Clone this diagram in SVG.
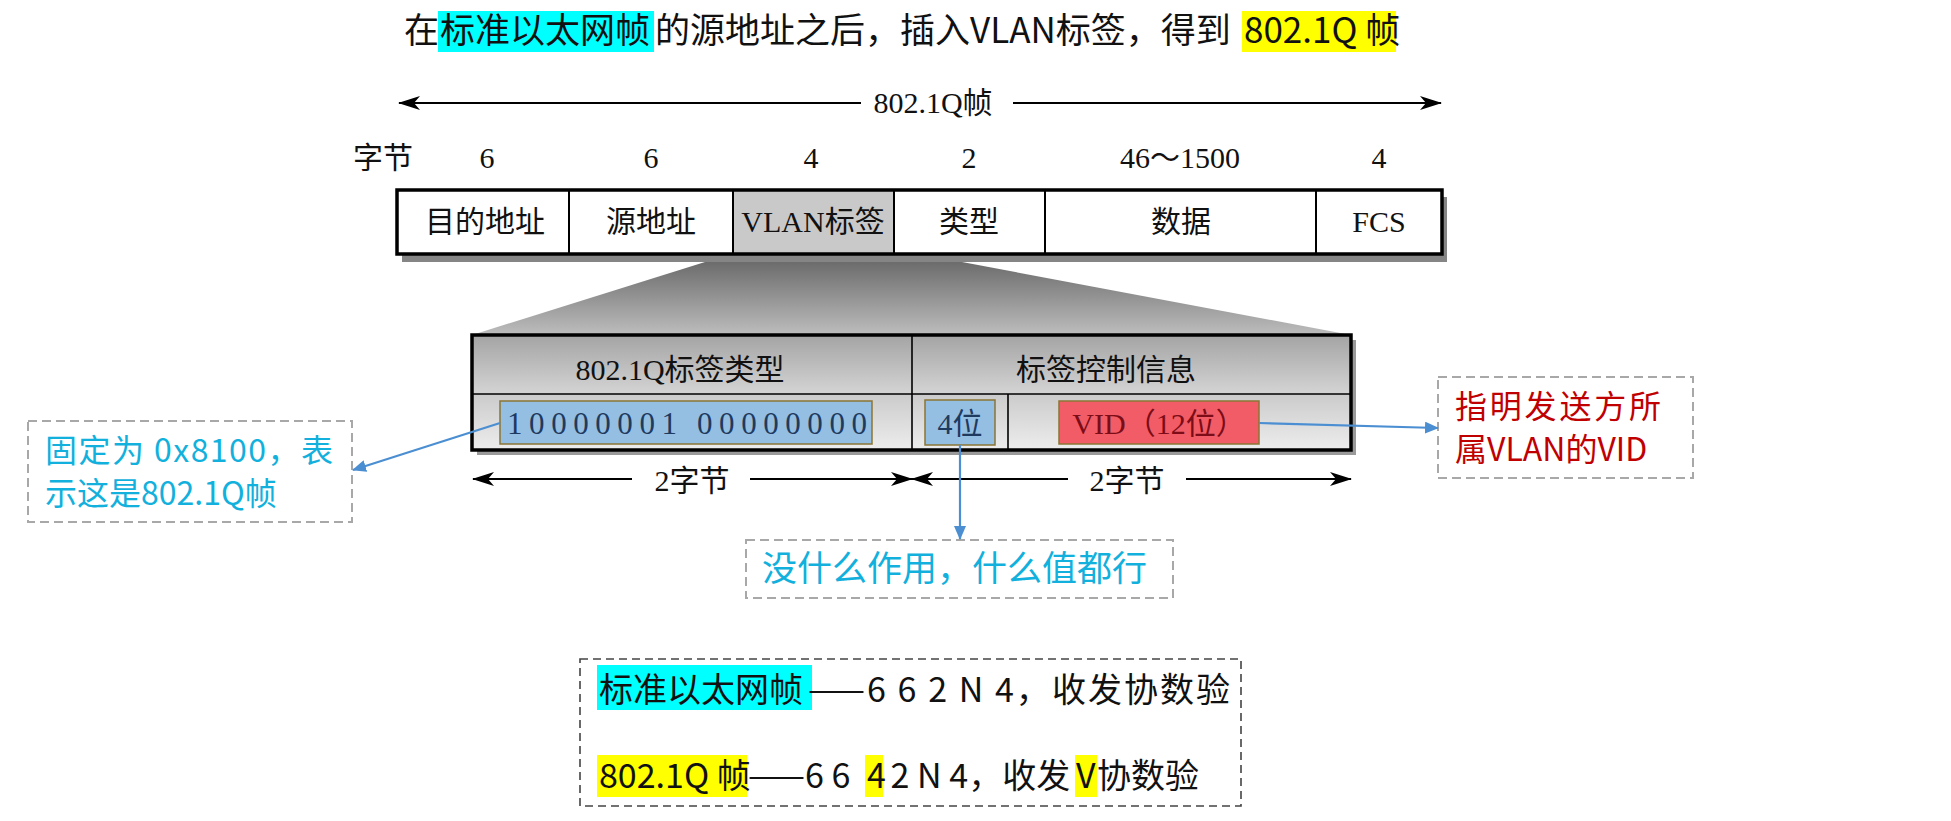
<svg xmlns="http://www.w3.org/2000/svg" width="1951" height="821" viewBox="0 0 1951 821">
<defs>
<style>
.sans{font-family:"Noto Sans CJK SC","Noto Sans",sans-serif;}
.serif{font-family:"Liberation Serif","Noto Sans CJK SC",serif;fill:#111;}
.dim{stroke:#000;stroke-width:2;fill:none;}
.blue{stroke:#4b8fd2;stroke-width:2.2;fill:none;}
.note{fill:none;stroke:#a8a8a8;stroke-width:2;stroke-dasharray:9 5;}
.bluebox{fill:#95bfe2;stroke:#8b7536;stroke-width:1.5;}
.cyan{fill:#12b0dc;}
</style>
<marker id="ah" viewBox="0 0 22 14" refX="21" refY="7" markerWidth="22" markerHeight="14" markerUnits="userSpaceOnUse" orient="auto">
<path d="M0,0 L22,7 L0,14 L6,7 Z" fill="#000"/>
</marker>
<marker id="bh" viewBox="0 0 14 12" refX="13" refY="6" markerWidth="14" markerHeight="12" markerUnits="userSpaceOnUse" orient="auto">
<path d="M0,0 L14,6 L0,12 Z" fill="#4b8fd2"/>
</marker>
<linearGradient id="cone" x1="0" y1="0" x2="0" y2="1">
<stop offset="0" stop-color="#6c6c6c"/>
<stop offset="1" stop-color="#bdbdbd"/>
</linearGradient>
<linearGradient id="row1" x1="0" y1="0" x2="0" y2="1">
<stop offset="0" stop-color="#a4a4a4"/>
<stop offset="1" stop-color="#d4d4d4"/>
</linearGradient>
<linearGradient id="row2" x1="0" y1="0" x2="0" y2="1">
<stop offset="0" stop-color="#cbcbcb"/>
<stop offset="1" stop-color="#ededed"/>
</linearGradient>
</defs>
<rect width="1951" height="821" fill="#fff"/>

<g id="title">
<rect x="438" y="11" width="216" height="41" fill="#00ffff"/>
<rect x="1242" y="11" width="154" height="41" fill="#ffff00"/>
<text class="sans" font-size="35" fill="#111" y="43"><tspan x="404">在</tspan><tspan x="440">标准以太网帧</tspan><tspan x="655">的源地址之后，插入VLAN标签，得到</tspan><tspan x="1244">802.1Q 帧</tspan></text>
</g>

<g id="frame-length">
<text class="serif" font-size="30" x="933" y="113" text-anchor="middle">802.1Q帧</text>
</g>

<g id="byte-row" class="serif" font-size="30" text-anchor="middle">
<text x="383" y="168">字节</text>
<text x="487" y="168">6</text>
<text x="651" y="168">6</text>
<text x="811" y="168">4</text>
<text x="969" y="168">2</text>
<text x="1180" y="168">46～1500</text>
<text x="1379" y="168">4</text>
</g>

<g id="cone-shape">
<polygon points="705,262 962,262 1351,335 472,335" fill="url(#cone)"/>
</g>

<g id="frame">
<rect x="402" y="197" width="1045" height="65" fill="#858585"/>
<rect x="397" y="190" width="1045" height="64" fill="#fff"/>
<rect x="733" y="190" width="161" height="64" fill="#c9c9c9"/>
<g stroke="#000" stroke-width="2">
<line x1="569" y1="190" x2="569" y2="254"/>
<line x1="733" y1="190" x2="733" y2="254"/>
<line x1="894" y1="190" x2="894" y2="254"/>
<line x1="1045" y1="190" x2="1045" y2="254"/>
<line x1="1316" y1="190" x2="1316" y2="254"/>
</g>
<rect x="397" y="190" width="1045" height="64" fill="none" stroke="#000" stroke-width="3.5"/>
<g class="serif" font-size="30" text-anchor="middle">
<text x="485" y="232">目的地址</text>
<text x="651" y="232">源地址</text>
<text x="813" y="232">VLAN标签</text>
<text x="969" y="232">类型</text>
<text x="1181" y="232">数据</text>
<text x="1379" y="232">FCS</text>
</g>
</g>

<g id="tag-box">
<rect x="477" y="340" width="879" height="115" fill="#9a9a9a"/>
<rect x="472" y="335" width="879" height="59" fill="url(#row1)"/>
<rect x="472" y="394" width="879" height="56" fill="url(#row2)"/>
<g stroke="#000" stroke-width="1.6">
<line x1="472" y1="394" x2="1351" y2="394"/>
<line x1="912" y1="335" x2="912" y2="450"/>
<line x1="1008" y1="394" x2="1008" y2="450"/>
</g>
<rect x="472" y="335" width="879" height="115" fill="none" stroke="#000" stroke-width="3.5"/>
<text class="serif" font-size="30" x="680" y="380" text-anchor="middle">802.1Q标签类型</text>
<text class="serif" font-size="30" x="1106" y="380" text-anchor="middle">标签控制信息</text>
</g>

<g id="tpid-value">
<rect class="bluebox" x="500" y="401" width="372" height="43"/>
<text class="serif" font-size="31" y="434" style="fill:#1f3a5f"><tspan x="507" textLength="170" lengthAdjust="spacing">10000001</tspan> <tspan x="697" textLength="170" lengthAdjust="spacing">00000000</tspan></text>
</g>

<g id="priority-bits">
<rect class="bluebox" x="925" y="400" width="70" height="45"/>
<text class="serif" font-size="30" x="960" y="434" text-anchor="middle" style="fill:#1f3a5f">4位</text>
</g>

<g id="vid">
<rect x="1059" y="401" width="200" height="43" fill="#f25c66" stroke="#8b7536" stroke-width="1.5"/>
<text class="serif" font-size="30" x="1159" y="434" text-anchor="middle" style="fill:#7b0c18">VID（12位）</text>
</g>

<g id="dim-labels" class="serif" font-size="30" text-anchor="middle">
<text x="692" y="491">2字节</text>
<text x="1127" y="491">2字节</text>
</g>

<g id="note-tpid">
<rect class="note" x="28" y="421" width="324" height="101"/>
<text class="sans cyan" font-size="32" x="45" y="462" textLength="288" lengthAdjust="spacing">固定为 0x8100，表</text>
<text class="sans cyan" font-size="32" x="45" y="505">示这是802.1Q帧</text>
</g>

<g id="note-vid">
<rect class="note" x="1438" y="377" width="255" height="101"/>
<text class="sans" font-size="32" x="1455" y="418" fill="#c00000" textLength="206" lengthAdjust="spacing">指明发送方所</text>
<text class="sans" font-size="32" x="1455" y="461" fill="#c00000">属VLAN的VID</text>
</g>

<g id="note-priority">
<rect class="note" x="746" y="540" width="427" height="58"/>
<text class="sans cyan" font-size="35" x="762" y="581">没什么作用，什么值都行</text>
</g>

<g id="summary">
<rect x="580" y="659" width="661" height="147" fill="none" stroke="#444" stroke-width="1.6" stroke-dasharray="8 5"/>
<rect x="597" y="665" width="215" height="45" fill="#00ffff"/>
<rect x="597" y="755" width="150" height="42" fill="#ffff00"/>
<rect x="865" y="755" width="18" height="42" fill="#ffff00"/>
<rect x="1075" y="755" width="22" height="42" fill="#ffff00"/>
<text class="sans" font-size="34" fill="#111" y="702"><tspan x="599">标准以太网帧</tspan><tspan x="808" textLength="422" lengthAdjust="spacing">——6 6 2 N 4，收发协数验</tspan></text>
<text class="sans" font-size="34" fill="#111" y="788"><tspan x="599">802.1Q 帧</tspan><tspan x="748">——6 6 </tspan><tspan x="867">4</tspan><tspan x="883"> 2 N 4，收发</tspan><tspan x="1076">V</tspan><tspan x="1097">协数验</tspan></text>
</g>

<g id="connectors">
<line class="dim" x1="861" y1="103" x2="399" y2="103" marker-end="url(#ah)"/>
<line class="dim" x1="1013" y1="103" x2="1441" y2="103" marker-end="url(#ah)"/>
<line class="dim" x1="632" y1="479" x2="473" y2="479" marker-end="url(#ah)"/>
<line class="dim" x1="750" y1="479" x2="912" y2="479" marker-end="url(#ah)"/>
<line class="dim" x1="1068" y1="479" x2="912" y2="479" marker-end="url(#ah)"/>
<line class="dim" x1="1186" y1="479" x2="1351" y2="479" marker-end="url(#ah)"/>
<line class="blue" x1="500" y1="423" x2="353" y2="470" marker-end="url(#bh)"/>
<line class="blue" x1="960" y1="445" x2="960" y2="539" marker-end="url(#bh)"/>
<line class="blue" x1="1259" y1="423" x2="1438" y2="428" marker-end="url(#bh)"/>
</g>
</svg>
